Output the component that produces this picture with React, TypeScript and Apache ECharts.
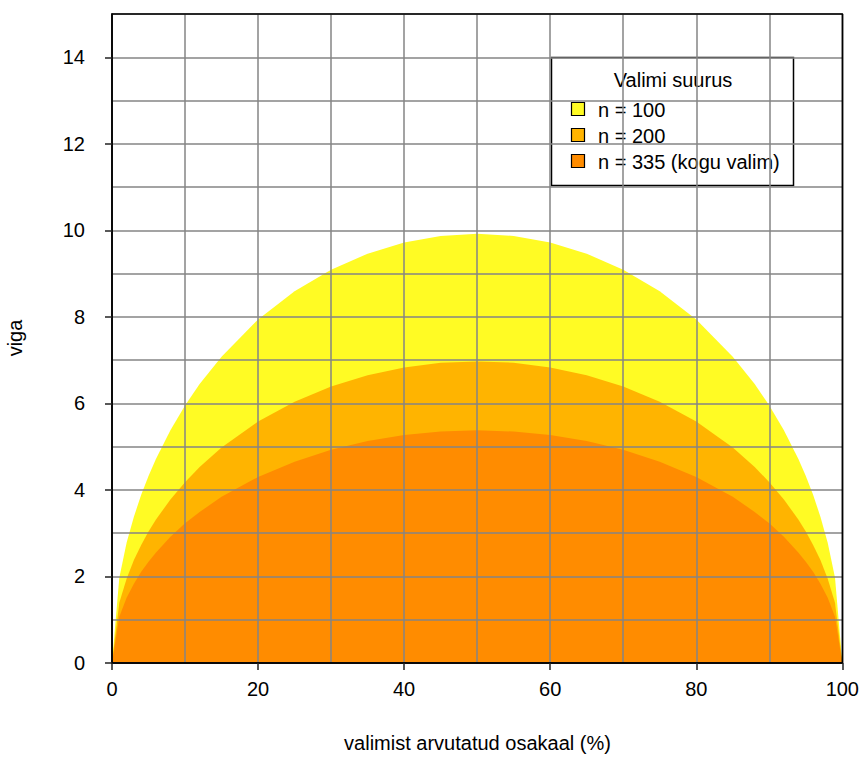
import React, { useEffect, useRef } from 'react';
import * as echarts from 'echarts';

// valimist arvutatud osakaal (%)
const xValues = [0, 1, 2, 3, 4, 5, 6, 8, 10, 12, 15, 20, 25, 30, 35, 40, 45, 50, 55, 60, 65, 70, 75, 80, 85, 88, 90, 92, 94, 95, 96, 97, 98, 99, 100];
// viga, n = 100
const errN100 = [0, 1.97, 2.78, 3.38, 3.89, 4.32, 4.71, 5.38, 5.95, 6.45, 7.08, 7.94, 8.59, 9.09, 9.46, 9.72, 9.87, 9.92, 9.87, 9.72, 9.46, 9.09, 8.59, 7.94, 7.08, 6.45, 5.95, 5.38, 4.71, 4.32, 3.89, 3.38, 2.78, 1.97, 0];
// viga, n = 200
const errN200 = [0, 1.39, 1.95, 2.38, 2.73, 3.04, 3.31, 3.78, 4.18, 4.53, 4.98, 5.58, 6.04, 6.39, 6.65, 6.83, 6.94, 6.97, 6.94, 6.83, 6.65, 6.39, 6.04, 5.58, 4.98, 4.53, 4.18, 3.78, 3.31, 3.04, 2.73, 2.38, 1.95, 1.39, 0];
// viga, n = 335
const errN335 = [0, 1.07, 1.51, 1.83, 2.11, 2.34, 2.55, 2.92, 3.23, 3.49, 3.84, 4.30, 4.65, 4.93, 5.13, 5.27, 5.35, 5.38, 5.35, 5.27, 5.13, 4.93, 4.65, 4.30, 3.84, 3.49, 3.23, 2.92, 2.55, 2.34, 2.11, 1.83, 1.51, 1.07, 0];

const seriesNames = ['n = 100', 'n = 200', 'n = 335 (kogu valim)'];
const seriesColors = ['#FFFB24', '#FFB400', '#FF8C00'];
const xTickLabels = [0, 20, 40, 60, 80, 100];
const yTickLabels = [0, 2, 4, 6, 8, 10, 12, 14];
const legendTitle = 'Valimi suurus';
const xTitle = 'valimist arvutatud osakaal (%)';
const yTitle = 'viga';

const FONT = '"Liberation Sans", Arial, sans-serif';
const GRID_LINE = { color: '#858585', width: 1.5 };

export default function App() {
  const ref = useRef<HTMLDivElement>(null);
  useEffect(() => {
    if (!ref.current) return;
    const chart = echarts.init(ref.current, undefined, { renderer: 'svg' });
    const allSeries = [errN100, errN200, errN335];
    const legendRowY = [109, 135, 161];
    const legendChildren: any[] = [
      {
        type: 'rect',
        shape: { x: 551.5, y: 57.5, width: 242, height: 128 },
        style: { fill: '#fff', stroke: '#000', lineWidth: 1.5 },
      },
      {
        type: 'text',
        x: 673,
        y: 80,
        style: { text: legendTitle, font: `20px ${FONT}`, fill: '#000', align: 'center', verticalAlign: 'middle' },
      },
    ];
    seriesNames.forEach((name, i) => {
      legendChildren.push({
        type: 'rect',
        shape: { x: 571.5, y: legendRowY[i] - 6.5, width: 13, height: 13 },
        style: { fill: seriesColors[i], stroke: '#000', lineWidth: 1.2 },
      });
      legendChildren.push({
        type: 'text',
        x: 598,
        y: legendRowY[i] + 1,
        style: { text: name, font: `20px ${FONT}`, fill: '#000', align: 'left', verticalAlign: 'middle' },
      });
    });

    chart.setOption({
      animation: false,
      grid: {
        left: 112,
        right: 19,
        top: 14,
        bottom: 118,
        show: true,
        borderColor: '#000',
        borderWidth: 1.5,
        backgroundColor: 'transparent',
        z: 6,
      },
      xAxis: [
        {
          type: 'value',
          min: 0,
          max: 100,
          interval: 20,
          position: 'bottom',
          z: 6,
          axisLine: { show: true, lineStyle: { color: '#000', width: 1.5 } },
          axisTick: { show: true, length: 7, lineStyle: { color: '#222', width: 1.5 } },
          axisLabel: { margin: 16, fontSize: 20, color: '#000', fontFamily: FONT },
          splitLine: { show: false },
        },
        {
          type: 'value',
          min: 0,
          max: 100,
          interval: 10,
          position: 'top',
          z: 5,
          axisLine: { show: false },
          axisTick: { show: false },
          axisLabel: { show: false },
          splitLine: { show: true, lineStyle: GRID_LINE },
        },
      ],
      yAxis: [
        {
          type: 'value',
          min: 0,
          max: 15,
          interval: 1,
          position: 'left',
          z: 6,
          axisLine: { show: true, lineStyle: { color: '#000', width: 1.5 } },
          axisTick: { show: true, length: 7, customValues: yTickLabels, lineStyle: { color: '#222', width: 1.5 } },
          axisLabel: { customValues: yTickLabels, margin: 27, fontSize: 20, color: '#000', fontFamily: FONT },
          splitLine: { show: false },
        },
        {
          type: 'value',
          min: 0,
          max: 15,
          interval: 1,
          position: 'right',
          z: 5,
          axisLine: { show: false },
          axisTick: { show: false },
          axisLabel: { show: false },
          splitLine: { show: true, lineStyle: GRID_LINE },
        },
      ],
      series: seriesNames.map((name, i) => ({
        name,
        type: 'line',
        xAxisIndex: 0,
        yAxisIndex: 0,
        data: xValues.map((x, j) => [x, allSeries[i][j]]),
        showSymbol: false,
        symbol: 'none',
        z: 2,
        itemStyle: { color: seriesColors[i] },
        lineStyle: { width: 0, color: seriesColors[i] },
        areaStyle: { color: seriesColors[i], opacity: 1 },
      })),
      graphic: [
        { type: 'group', z: 20, children: legendChildren },
        {
          type: 'text',
          x: 477.5,
          y: 743,
          z: 20,
          style: { text: xTitle, font: `20px ${FONT}`, fill: '#000', align: 'center', verticalAlign: 'middle' },
        },
        {
          type: 'text',
          x: 15,
          y: 338,
          rotation: Math.PI / 2,
          z: 20,
          style: { text: yTitle, font: `20px ${FONT}`, fill: '#000', align: 'center', verticalAlign: 'middle' },
        },
      ],
    });
    return () => chart.dispose();
  }, []);
  return <div ref={ref} style={{ position: 'absolute', left: 0, top: 0, width: 862, height: 781 }} />;
}
